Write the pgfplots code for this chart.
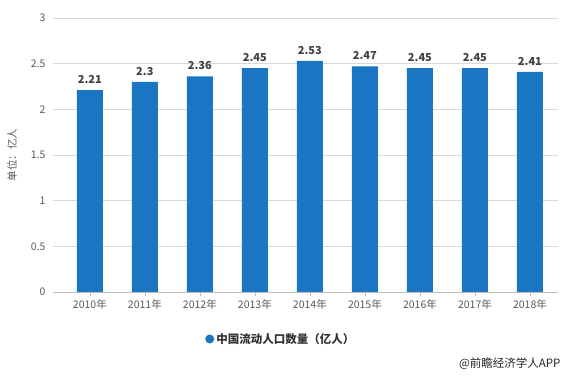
\documentclass[border=0pt]{standalone}
\usepackage{fontspec}
\setmainfont{Noto Sans CJK SC}
\usepackage{pgfplots}
\pgfplotsset{compat=1.18}
\definecolor{barblue}{HTML}{1A75C2}
\definecolor{gridgray}{HTML}{D9D9D9}
\definecolor{ticktxt}{HTML}{595959}
\begin{document}
\begin{tikzpicture}
\path[use as bounding box] (-53pt,-85pt) rectangle (515pt,292pt);
\begin{axis}[
  at={(0pt,0pt)}, anchor=south west,
  scale only axis, width=505pt, height=274pt,
  xmin=-0.67, xmax=8.51, ymin=0, ymax=3,
  ytick={0,0.5,...,3},
  yticklabels={0,0.5,1,1.5,2,2.5,3},
  xtick=data,
  xticklabels={2010年,2011年,2012年,2013年,2014年,2015年,2016年,2017年,2018年},
  yticklabel style={font=\fontsize{10.5}{11}\selectfont, text=ticktxt},
  xticklabel style={font=\fontsize{10.5}{11}\selectfont, text=ticktxt},
  axis x line*=bottom,
  axis y line*=left,
  y axis line style={draw=none},
  x axis line style={draw=gridgray!70!gray, -},
  ymajorgrids, grid style={draw=gridgray, line width=0.6pt},
  tick align=outside,
  major tick length=4pt,
  xtick style={draw=gridgray!70!gray},
  ytick style={draw=none},
  nodes near coords,
  nodes near coords style={font=\bfseries\fontsize{11}{12}\selectfont, text=black!75, yshift=3pt},
  point meta=explicit symbolic,
  legend style={at={(0.451,-0.1715)}, anchor=center, draw=none, fill=none,
    font=\bfseries\fontsize{11.5}{12}\selectfont, text=black!80},
  legend image code/.code={\fill[barblue] (0.15cm,0cm) circle (4.5pt);},
]
\addplot[ybar, bar width=26pt, fill=barblue, draw=none] table[meta=label] {
x y label
0 2.21 2.21
1 2.30 2.3
2 2.36 2.36
3 2.45 2.45
4 2.53 2.53
5 2.47 2.47
6 2.45 2.45
7 2.45 2.45
8 2.41 2.41
};
\addlegendentry{中国流动人口数量（亿人）}
\end{axis}
\node[rotate=90, font=\fontsize{10.5}{11}\selectfont, text=ticktxt] at (-41pt,137pt) {单位：亿人};
\node[anchor=east, font=\fontsize{11.5}{12}\selectfont, text=black!85] at (511pt,-72pt) {@前瞻经济学人APP};
\end{tikzpicture}
\end{document}
